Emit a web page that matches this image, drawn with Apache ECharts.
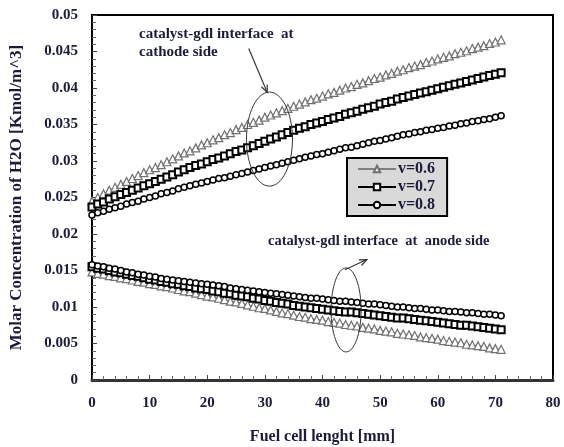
<!DOCTYPE html>
<html>
<head>
<meta charset="utf-8">
<script src="https://cdn.jsdelivr.net/npm/echarts@6/dist/echarts.min.js"></script>
<style>
  html, body { margin: 0; padding: 0; background: #fff; }
  #chart { width: 564px; height: 447px; }
</style>
</head>
<body>
<div id="chart"></div>
<script>
// Position along the cell [mm]
const xs = [0,1,2,3,4,5,6,7,8,9,10,11,12,13,14,15,16,17,18,19,20,21,22,23,24,25,26,27,28,29,30,31,32,33,34,35,36,37,38,39,40,41,42,43,44,45,46,47,48,49,50,51,52,53,54,55,56,57,58,59,60,61,62,63,64,65,66,67,68,69,70,71];

// Catalyst-GDL interface, cathode side [Kmol/m^3]
const cathode06 = [0.0245,0.0250,0.0255,0.0260,0.0264,0.0268,0.0272,0.0276,0.0280,0.0284,0.0288,0.0291,0.0295,0.0299,0.0303,0.0307,0.0311,0.0314,0.0318,0.0322,0.0325,0.0329,0.0332,0.0336,0.0339,0.0343,0.0346,0.0350,0.0353,0.0356,0.0360,0.0363,0.0366,0.0369,0.0372,0.0375,0.0378,0.0381,0.0384,0.0386,0.0389,0.0392,0.0394,0.0397,0.0400,0.0402,0.0405,0.0407,0.0410,0.0413,0.0415,0.0418,0.0420,0.0423,0.0425,0.0428,0.0430,0.0432,0.0435,0.0437,0.0440,0.0442,0.0444,0.0447,0.0449,0.0451,0.0454,0.0456,0.0458,0.0461,0.0463,0.0466];
const cathode07 = [0.0237,0.0241,0.0244,0.0248,0.0251,0.0254,0.0257,0.0260,0.0263,0.0266,0.0269,0.0272,0.0275,0.0278,0.0281,0.0285,0.0288,0.0291,0.0294,0.0296,0.0299,0.0302,0.0304,0.0307,0.0310,0.0313,0.0315,0.0318,0.0321,0.0324,0.0327,0.0330,0.0333,0.0336,0.0339,0.0342,0.0345,0.0347,0.0350,0.0352,0.0354,0.0357,0.0359,0.0361,0.0364,0.0366,0.0368,0.0371,0.0373,0.0375,0.0378,0.0380,0.0382,0.0385,0.0387,0.0389,0.0391,0.0393,0.0395,0.0397,0.0399,0.0401,0.0403,0.0405,0.0407,0.0409,0.0411,0.0413,0.0415,0.0417,0.0419,0.0421];
const cathode08 = [0.0226,0.0229,0.0231,0.0234,0.0236,0.0238,0.0241,0.0243,0.0245,0.0248,0.0250,0.0252,0.0255,0.0257,0.0259,0.0262,0.0264,0.0266,0.0268,0.0270,0.0272,0.0274,0.0276,0.0277,0.0279,0.0281,0.0283,0.0285,0.0287,0.0289,0.0291,0.0293,0.0295,0.0297,0.0299,0.0301,0.0303,0.0305,0.0307,0.0309,0.0310,0.0312,0.0314,0.0316,0.0318,0.0319,0.0321,0.0323,0.0325,0.0327,0.0328,0.0330,0.0332,0.0334,0.0336,0.0337,0.0339,0.0340,0.0342,0.0343,0.0345,0.0346,0.0348,0.0349,0.0351,0.0352,0.0354,0.0355,0.0357,0.0358,0.0360,0.0362];

// Catalyst-GDL interface, anode side [Kmol/m^3]
const anode06 = [0.0148,0.0146,0.0145,0.0143,0.0142,0.0140,0.0139,0.0137,0.0135,0.0134,0.0132,0.0131,0.0129,0.0128,0.0126,0.0124,0.0122,0.0121,0.0119,0.0117,0.0115,0.0114,0.0112,0.0110,0.0108,0.0107,0.0105,0.0103,0.0101,0.0099,0.0098,0.0096,0.0094,0.0092,0.0091,0.0089,0.0087,0.0086,0.0084,0.0083,0.0082,0.0080,0.0079,0.0078,0.0076,0.0075,0.0074,0.0072,0.0071,0.0070,0.0068,0.0067,0.0066,0.0064,0.0063,0.0062,0.0061,0.0059,0.0058,0.0057,0.0056,0.0054,0.0053,0.0052,0.0051,0.0049,0.0048,0.0047,0.0046,0.0044,0.0043,0.0042];
const anode07 = [0.0155,0.0153,0.0152,0.0150,0.0148,0.0147,0.0145,0.0143,0.0142,0.0140,0.0138,0.0137,0.0135,0.0134,0.0132,0.0131,0.0129,0.0128,0.0126,0.0125,0.0124,0.0122,0.0121,0.0119,0.0118,0.0116,0.0115,0.0114,0.0112,0.0111,0.0109,0.0108,0.0106,0.0105,0.0104,0.0102,0.0101,0.0100,0.0099,0.0098,0.0097,0.0096,0.0095,0.0094,0.0093,0.0093,0.0092,0.0091,0.0090,0.0089,0.0088,0.0087,0.0086,0.0085,0.0085,0.0084,0.0083,0.0082,0.0081,0.0080,0.0079,0.0078,0.0077,0.0076,0.0075,0.0075,0.0074,0.0073,0.0072,0.0071,0.0070,0.0069];
const anode08 = [0.0158,0.0156,0.0155,0.0153,0.0152,0.0150,0.0148,0.0147,0.0145,0.0144,0.0142,0.0141,0.0139,0.0138,0.0137,0.0136,0.0135,0.0134,0.0133,0.0132,0.0131,0.0130,0.0129,0.0128,0.0126,0.0125,0.0124,0.0123,0.0122,0.0121,0.0120,0.0119,0.0118,0.0117,0.0116,0.0115,0.0114,0.0113,0.0112,0.0112,0.0111,0.0110,0.0109,0.0108,0.0108,0.0107,0.0106,0.0105,0.0104,0.0104,0.0103,0.0102,0.0101,0.0100,0.0100,0.0099,0.0098,0.0098,0.0097,0.0096,0.0096,0.0095,0.0094,0.0094,0.0093,0.0092,0.0092,0.0091,0.0090,0.0090,0.0089,0.0088];

const seriesNames = ['v=0.6', 'v=0.7', 'v=0.8'];
const xTicks = { min: 0, max: 80, interval: 10 };
const yTicks = { min: 0, max: 0.05, interval: 0.005 };

const FONT = '"Liberation Serif", "Times New Roman", serif';
const INK = '#1b1b3a';

const pair = arr => arr.map((v, i) => [xs[i], v]);

const styles = {
  'v=0.6': { symbol: 'triangle', symbolSize: 8, line: '#808080', border: '#707070', bw: 1.2 },
  'v=0.7': { symbol: 'rect', symbolSize: 7, line: '#000', border: '#000', bw: 2 },
  'v=0.8': { symbol: 'circle', symbolSize: 6, line: '#000', border: '#000', bw: 1.5 }
};

function makeSeries(name, values) {
  const s = styles[name];
  return {
    name: name,
    type: 'line',
    data: pair(values),
    symbol: s.symbol,
    symbolSize: s.symbolSize,
    showAllSymbol: true,
    animation: false,
    lineStyle: { color: s.line, width: 1 },
    itemStyle: { color: '#fff', borderColor: s.border, borderWidth: s.bw }
  };
}

const chart = echarts.init(document.getElementById('chart'), null, { renderer: 'canvas' });

chart.setOption({
  backgroundColor: '#fff',
  animation: false,
  grid: {
    left: 92, top: 15, right: 11, bottom: 67,
    outerBoundsMode: 'none',
    containLabel: false,
    show: true, borderColor: '#000', borderWidth: 2, backgroundColor: '#fff'
  },
  legend: {
    data: seriesNames,
    orient: 'vertical',
    left: 347, top: 158,
    itemWidth: 38, itemHeight: 8, itemGap: 2,
    padding: [3, 12, 3, 10],
    backgroundColor: '#d9d9d9',
    borderColor: '#000', borderWidth: 2,
    textStyle: { fontFamily: FONT, fontWeight: 'bold', fontSize: 16, color: INK, padding: [0, 0, 0, -3] }
  },
  xAxis: {
    type: 'value',
    min: xTicks.min, max: xTicks.max, interval: xTicks.interval,
    name: 'Fuel cell lenght [mm]',
    nameLocation: 'middle', nameGap: 49,
    nameTextStyle: { fontFamily: FONT, fontWeight: 'bold', fontSize: 16, color: INK },
    axisLine: { lineStyle: { color: '#333', width: 3 } },
    axisTick: { inside: true, length: 5, lineStyle: { color: '#444' } },
    minorTick: { show: true, splitNumber: 5, length: 4, lineStyle: { color: '#666' } },
    splitLine: { show: false },
    axisLabel: { fontFamily: FONT, fontWeight: 'bold', fontSize: 15, color: INK, margin: 16 }
  },
  yAxis: {
    type: 'value',
    min: yTicks.min, max: yTicks.max, interval: yTicks.interval,
    name: 'Molar Concentration of H2O [Kmol/m^3]',
    nameLocation: 'middle', nameGap: 67, nameRotate: 90,
    nameTextStyle: { fontFamily: FONT, fontWeight: 'bold', fontSize: 17, color: INK },
    axisLine: { lineStyle: { color: '#000', width: 2 } },
    axisTick: { inside: true, length: 5, lineStyle: { color: '#444' } },
    minorTick: { show: true, splitNumber: 5, length: 4, lineStyle: { color: '#666' } },
    splitLine: { show: false },
    axisLabel: { fontFamily: FONT, fontWeight: 'bold', fontSize: 15, color: INK, margin: 14 }
  },
  series: [
    makeSeries('v=0.6', cathode06),
    makeSeries('v=0.7', cathode07),
    makeSeries('v=0.8', cathode08),
    makeSeries('v=0.6', anode06),
    makeSeries('v=0.7', anode07),
    makeSeries('v=0.8', anode08)
  ]
});

// Callouts: ellipses around the curve groups with arrows pointing to their captions
const px = (x, y) => chart.convertToPixel({ gridIndex: 0 }, [x, y]);

const cathEll = px(30.8, 0.0330);
const anodeEll = px(44.1, 0.0096);
const cathArrowFrom = px(27.2, 0.0454);
const cathArrowTo = px(30.4, 0.0394);
const anArrowFrom = px(43.9, 0.0151);
const anArrowTo = px(47.7, 0.0165);

function arrow(from, to) {
  const dx = to[0] - from[0], dy = to[1] - from[1];
  const ang = Math.atan2(dy, dx);
  const h = 8, w = 0.4;
  const a1 = [to[0] - h * Math.cos(ang - w), to[1] - h * Math.sin(ang - w)];
  const a2 = [to[0] - h * Math.cos(ang + w), to[1] - h * Math.sin(ang + w)];
  return [
    { type: 'line', shape: { x1: from[0], y1: from[1], x2: to[0], y2: to[1] }, style: { stroke: '#333', lineWidth: 1.2 }, z: 100 },
    { type: 'polyline', shape: { points: [a1, to, a2] }, style: { stroke: '#333', lineWidth: 1.2, fill: null }, z: 100 }
  ];
}

chart.setOption({
  graphic: [
    { type: 'ellipse', shape: { cx: cathEll[0], cy: cathEll[1], rx: 23, ry: 47 }, style: { stroke: '#333', lineWidth: 1, fill: null }, z: 100 },
    { type: 'ellipse', shape: { cx: anodeEll[0], cy: anodeEll[1], rx: 15, ry: 42 }, style: { stroke: '#333', lineWidth: 1, fill: null }, z: 100 },
    ...arrow(cathArrowFrom, cathArrowTo),
    ...arrow(anArrowFrom, anArrowTo),
    { type: 'text', left: 139, top: 25, z: 100,
      style: { text: 'catalyst-gdl interface  at\ncathode side', font: 'bold 15px ' + FONT, fill: INK, lineHeight: 18 } },
    { type: 'text', left: 268, top: 234, z: 100,
      style: { text: 'catalyst-gdl interface  at  anode side', font: 'bold 14.5px ' + FONT, fill: INK } }
  ]
});
</script>
</body>
</html>
